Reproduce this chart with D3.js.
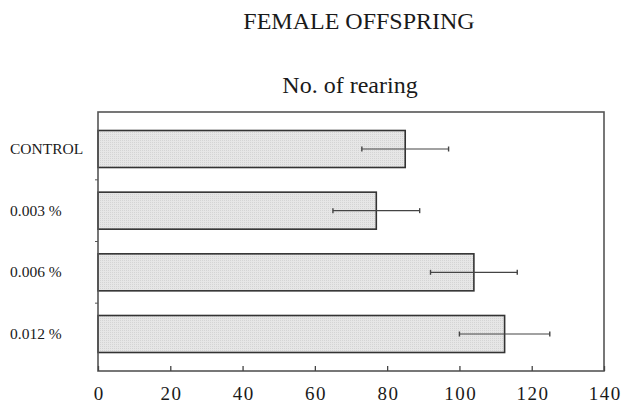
<!DOCTYPE html>
<html>
<head>
<meta charset="utf-8">
<script src="https://cdn.jsdelivr.net/npm/d3@7"></script>
<style>
  html, body { margin: 0; padding: 0; background: #fff; }
  svg { display: block; }
  text { font-family: "Liberation Serif", "Times New Roman", serif; fill: #1a1a1a; }
</style>
</head>
<body>
<svg id="chart" width="621" height="407"></svg>
<script>
// Female offspring: number of rearings by treatment (mean ± error)
const categories = ["CONTROL", "0.003 %", "0.006 %", "0.012 %"];
const means = [85, 77, 104, 112.5];
const errors = [12, 12, 12, 12.5];
const xTicks = [0, 20, 40, 60, 80, 100, 120, 140];

const svg = d3.select("#chart");
const margin = { left: 98, right: 17, top: 112, bottom: 36 };
const W = 621, H = 407;

const x = d3.scaleLinear().domain([0, 140]).range([margin.left, W - margin.right]);
const y = d3.scaleBand().domain(categories)
  .range([margin.top, H - margin.bottom])
  .paddingInner(0.4).paddingOuter(0.3);

// dotted texture for bar fill
const defs = svg.append("defs");
const pat = defs.append("pattern").attr("id", "dots")
  .attr("width", 2).attr("height", 2).attr("patternUnits", "userSpaceOnUse");
pat.append("rect").attr("width", 2).attr("height", 2).attr("fill", "#e6e6e6");
pat.append("rect").attr("width", 1).attr("height", 1).attr("fill", "#d4d4d4");

// titles
svg.append("text").attr("x", 359).attr("y", 29).attr("text-anchor", "middle")
  .attr("font-size", 24).text("FEMALE OFFSPRING");
svg.append("text").attr("x", 350).attr("y", 93).attr("text-anchor", "middle")
  .attr("font-size", 24).text("No. of rearing");

// bars
const g = svg.append("g");
g.selectAll("rect.bar").data(categories).join("rect").attr("class", "bar")
  .attr("x", x(0)).attr("y", d => y(d))
  .attr("width", (d, i) => x(means[i]) - x(0)).attr("height", y.bandwidth())
  .attr("fill", "url(#dots)").attr("stroke", "#333").attr("stroke-width", 1.6);

// error bars
const eb = g.selectAll("g.err").data(categories).join("g").attr("class", "err")
  .attr("transform", d => `translate(0,${y(d) + y.bandwidth() / 2})`);
eb.append("line")
  .attr("x1", (d, i) => x(means[i] - errors[i])).attr("x2", (d, i) => x(means[i] + errors[i]))
  .attr("stroke", "#444").attr("stroke-width", 1.2);
eb.append("line")
  .attr("x1", (d, i) => x(means[i] - errors[i])).attr("x2", (d, i) => x(means[i] - errors[i]))
  .attr("y1", -2.5).attr("y2", 2.5).attr("stroke", "#444").attr("stroke-width", 1.4);
eb.append("line")
  .attr("x1", (d, i) => x(means[i] + errors[i])).attr("x2", (d, i) => x(means[i] + errors[i]))
  .attr("y1", -2.5).attr("y2", 2.5).attr("stroke", "#444").attr("stroke-width", 1.4);

// frame
svg.append("rect").attr("x", x(0)).attr("y", margin.top)
  .attr("width", x(140) - x(0)).attr("height", H - margin.bottom - margin.top)
  .attr("fill", "none").attr("stroke", "#555").attr("stroke-width", 1.6);

// bottom axis, ticks pointing inward
const xAxis = d3.axisBottom(x).tickValues(xTicks).tickSizeInner(-5).tickSizeOuter(0).tickPadding(15.5);
const ax = svg.append("g").attr("transform", `translate(0,${H - margin.bottom})`).call(xAxis);
ax.select(".domain").remove();
ax.selectAll(".tick line").attr("stroke", "#444").attr("stroke-width", 1.3);
ax.selectAll(".tick text").attr("font-size", 19).attr("letter-spacing", 1.5).attr("dx", 0.75)
  .attr("font-family", "Liberation Serif, serif").attr("fill", "#1a1a1a");

// category separators on the left edge
const step = y.step();
const seps = categories.slice(1).map(c => y(c) - (step - y.bandwidth()) / 2);
svg.selectAll("line.sep").data(seps).join("line").attr("class", "sep")
  .attr("x1", x(0) - 3).attr("x2", x(0)).attr("y1", d => d).attr("y2", d => d)
  .attr("stroke", "#555").attr("stroke-width", 1);

// category labels
svg.selectAll("text.cat").data(categories).join("text").attr("class", "cat")
  .attr("x", 10).attr("y", d => y(d) + y.bandwidth() / 2 + 5)
  .attr("font-size", 15.5).text(d => d);
</script>
</body>
</html>
